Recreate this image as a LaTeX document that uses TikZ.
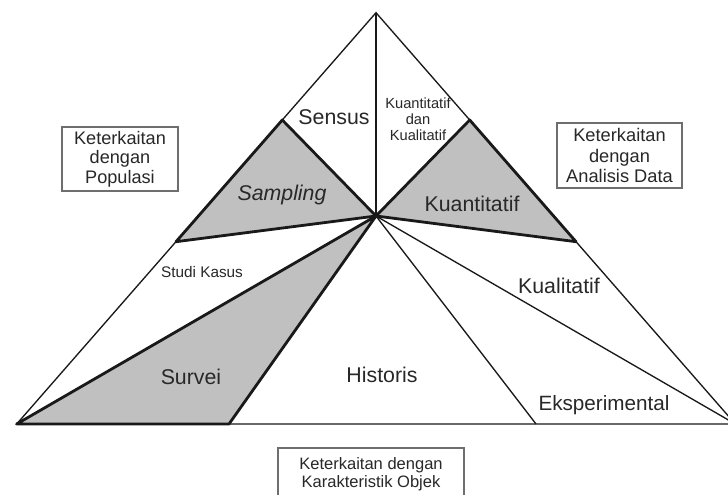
\documentclass[tikz,border=0pt]{standalone}
\usepackage{fontspec}
\setmainfont{Liberation Sans}
\definecolor{fillg}{RGB}{192,192,192}
\definecolor{txt}{RGB}{40,40,40}
\definecolor{boxc}{RGB}{110,110,110}
\definecolor{linec}{RGB}{25,25,25}
\tikzset{
  thinln/.style={line width=1.0pt, draw=linec},
  boldln/.style={line width=2.1pt, draw=linec, line join=round},
  shade/.style={fill=fillg},
  big/.style={text=txt, font=\fontsize{16}{18}\selectfont, inner sep=0pt},
  small/.style={text=txt, font=\fontsize{11}{12}\selectfont, inner sep=0pt, align=center},
  infobox/.style={draw=boxc, line width=0.8pt, text=txt, align=center, inner sep=0pt},
  boxtext/.style={text=txt, align=center, inner sep=0pt}
}
\begin{document}
\begin{tikzpicture}[x=0.75pt,y=-0.75pt]
\clip (0,0) rectangle (728,495);
\fill[white] (0,0) rectangle (728,495);
\coordinate (A) at (376,12.7);
\coordinate (C) at (376,216);
\coordinate (L) at (16.7,424);
\coordinate (R) at (735.3,424);
\coordinate (SL1) at (282.3,120);
\coordinate (SL2) at (176,241.7);
\coordinate (KR1) at (469.7,120);
\coordinate (KR2) at (576,241.7);
\coordinate (SV) at (229,424);
\coordinate (EX) at (536,424);
% fills
\fill[shade] (SL1) -- (SL2) -- (C) -- cycle;
\fill[shade] (KR1) -- (KR2) -- (C) -- cycle;
\fill[shade] (L) -- (SV) -- (C) -- cycle;
% thin lines
\draw[thinln] (A) -- (L) -- (R) -- cycle;
\draw[thinln] (A) -- (C);
\draw[thinln] (C) -- (EX);
\draw[thinln] (C) -- (R);
% bold outlines
\draw[boldln] (SL1) -- (SL2) -- (C) -- cycle;
\draw[boldln] (KR1) -- (KR2) -- (C) -- cycle;
\draw[boldln] (L) -- (SV) -- (C) -- cycle;
% labels
\node[big] (sensus) at (334,117) {Sensus};
\node[small] (kdk) at (418,119) {Kuantitatif\\dan\\Kualitatif};
\node[big, font=\fontsize{16}{18}\selectfont\itshape] (sampling) at (282,195) {Sampling};
\node[big] (kuan) at (472,204) {Kuantitatif};
\node[small, font=\fontsize{11.5}{12}\selectfont] (studi) at (202,272) {Studi Kasus};
\node[big] (survei) at (191,377) {Survei};
\node[big] (historis) at (382,375) {Historis};
\node[big] (kual) at (559,286) {Kualitatif};
\node[big, font=\fontsize{15.5}{18}\selectfont] (eksp) at (604,405) {Eksperimental};
% boxes
\node[infobox, minimum width=87pt, minimum height=48pt, font=\fontsize{13.6}{14.6}\selectfont] (bpop) at (120,159) {Keterkaitan\\dengan\\Populasi};
\node[infobox, minimum width=93.75pt, minimum height=48.75pt, font=\fontsize{13.7}{15.3}\selectfont] (bana) at (619.5,155.5) {Keterkaitan\\dengan\\Analisis Data};
\node[infobox, minimum width=139.5pt, minimum height=45pt] (bkar) at (371,478) {};
\node[boxtext, font=\fontsize{12.4}{13.5}\selectfont] (tkar) at (371,474) {Keterkaitan dengan\\Karakteristik Objek};
\end{tikzpicture}
\end{document}
